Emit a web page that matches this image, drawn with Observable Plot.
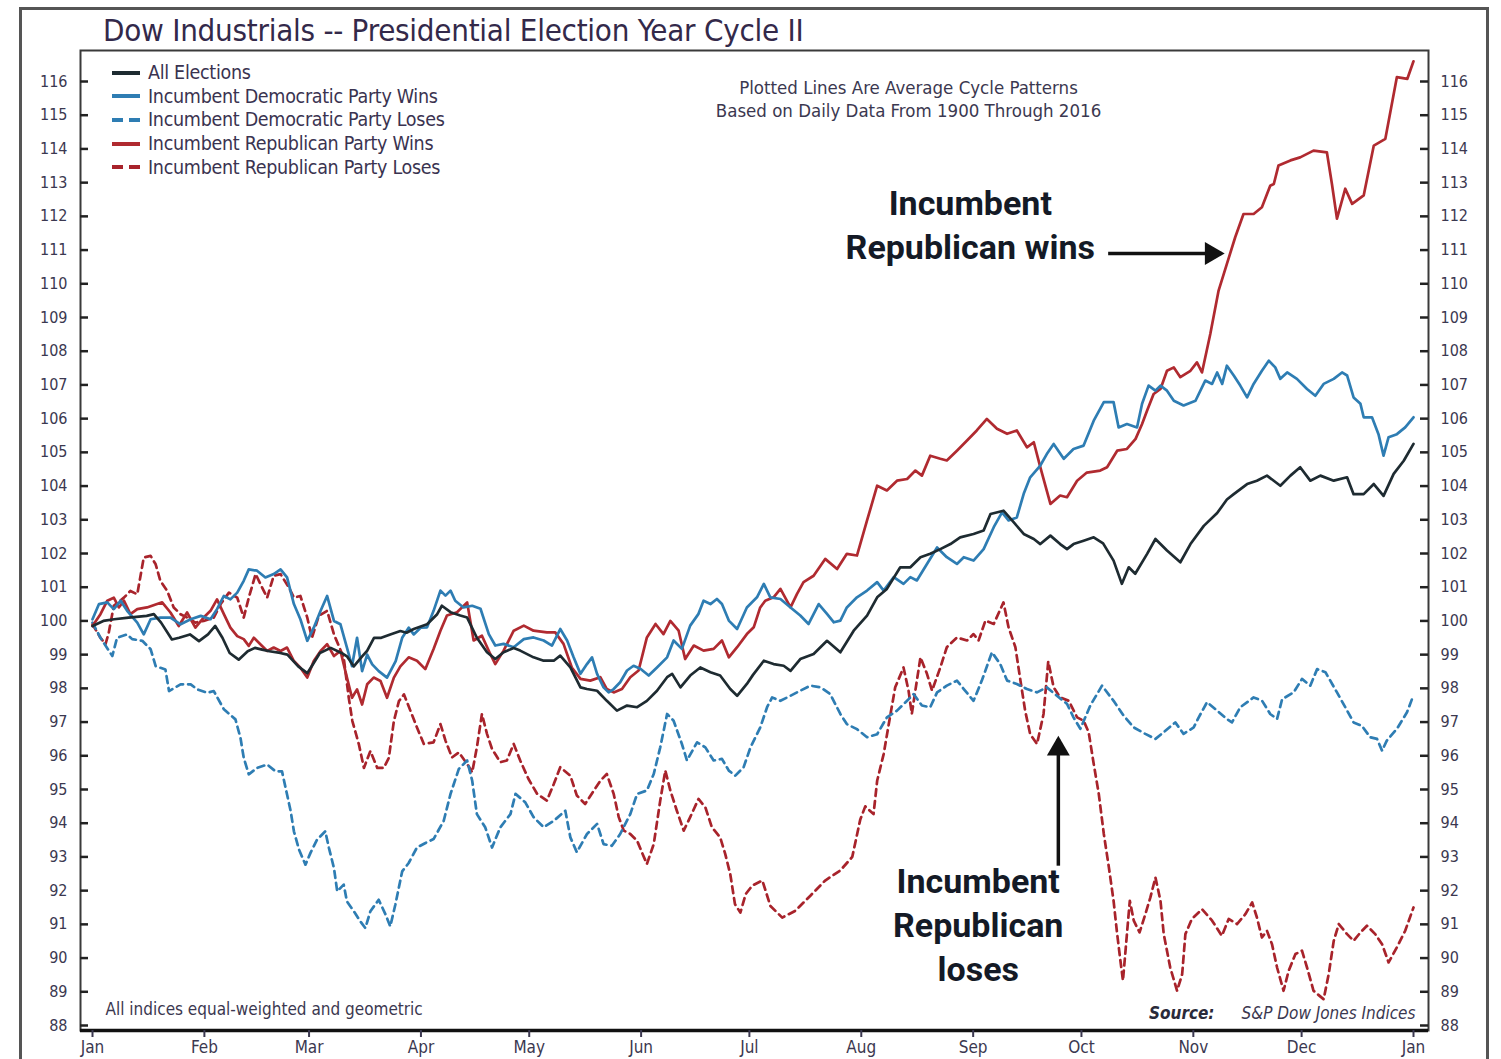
<!DOCTYPE html>
<html>
<head>
<meta charset="utf-8">
<script src="https://cdn.jsdelivr.net/npm/d3@7"></script>
<script src="https://cdn.jsdelivr.net/npm/@observablehq/plot@0.6"></script>
<style>
  html, body { margin: 0; padding: 0; background: #fff; }
  #wrap { position: relative; width: 1501px; height: 1059px; overflow: hidden; }
  #border { position: absolute; left: 19px; top: 7px; width: 1470px; height: 1080px; border: 3px solid #555; box-sizing: border-box; pointer-events: none; }
  #title { position: absolute; left: 103px; top: 12px; font-family: "Liberation Sans Narrow", "DejaVu Sans Condensed", Roboto, sans-serif; font-size: 31px; color: #33294a; white-space: nowrap; letter-spacing: -0.25px; }
  #legend { position: absolute; left: 112px; top: 61px; font-family: "Liberation Sans Narrow", "DejaVu Sans Condensed", Roboto, sans-serif; font-size: 19.5px; color: #3a3350; letter-spacing: -0.3px; }
  .row { height: 23.6px; display: flex; align-items: center; white-space: nowrap; }
  .sw { width: 28px; height: 4px; margin-right: 8px; flex: none; }
  #chart { position: absolute; left: 0; top: 0; }
</style>
</head>
<body>
<div id="wrap">
  <div id="chart"></div>
  <div id="title"></div>
  <div id="legend"></div>
  <div id="border"></div>
</div>
<script>
// ---------- DATA (day of year, index level; Jan 1 = 100) ----------
const monthDays = [0, 31, 60, 91, 121, 152, 182, 213, 244, 274, 305, 335, 366];
const monthLabels = ["Jan","Feb","Mar","Apr","May","Jun","Jul","Aug","Sep","Oct","Nov","Dec","Jan"];
const yTicks = [88,89,90,91,92,93,94,95,96,97,98,99,100,101,102,103,104,105,106,107,108,109,110,111,112,113,114,115,116];

const seriesNames = ["All Elections","Incumbent Democratic Party Wins","Incumbent Democratic Party Loses","Incumbent Republican Party Wins","Incumbent Republican Party Loses"];
const seriesColors = ["#1e2b31","#2e7db3","#2e7db3","#b02a30","#a8232b"];
const seriesDashed = [false,false,true,false,true];

const allElections = [[0,99.85],[3,100.0],[6,100.05],[10,100.1],[15,100.15],[17,100.2],[19,99.95],[22,99.45],[24,99.5],[27,99.6],[29.5,99.4],[32,99.6],[34,99.85],[36,99.5],[38,99.05],[40.5,98.85],[43,99.1],[45,99.2],[47,99.15],[49,99.1],[52,99.05],[54,99.0],[57,98.65],[59.5,98.45],[61,98.7],[63,99.05],[66,99.2],[69,99.05],[70.5,98.95],[72.4,98.65],[74.7,98.95],[76,99.1],[78,99.5],[80,99.5],[82.5,99.6],[85.3,99.7],[87,99.65],[89,99.76],[92.7,99.9],[95.5,100.2],[96.8,100.45],[99.2,100.26],[101.9,100.16],[103.8,100.1],[106.5,99.5],[109.3,99.07],[111.6,98.87],[113.9,99.07],[116.7,99.2],[118.5,99.12],[122.2,98.92],[125,98.82],[127.8,98.82],[129.6,98.97],[132.4,98.62],[135.2,98.03],[137,97.98],[139.8,97.93],[142.5,97.63],[145.3,97.34],[148.1,97.49],[150.9,97.44],[153.6,97.63],[156.4,97.93],[159.2,98.33],[160.6,98.43],[162.9,98.03],[165.6,98.38],[168.4,98.62],[171.2,98.48],[173.9,98.38],[176.7,97.98],[178.6,97.78],[181.3,98.13],[183,98.4],[186,98.82],[188.7,98.72],[191.5,98.67],[193.4,98.52],[196.1,98.87],[199.8,99.02],[203.5,99.41],[207.2,99.07],[210.9,99.71],[214.6,100.16],[217.4,100.7],[220.1,100.95],[223.8,101.59],[226.6,101.59],[229.4,101.89],[232.1,101.99],[234.9,102.13],[237.7,102.28],[240.4,102.48],[244.1,102.58],[246.9,102.68],[248.8,103.17],[252.4,103.27],[255.2,102.93],[258,102.58],[260.8,102.43],[262.6,102.28],[265.4,102.53],[268.1,102.28],[270,102.13],[271.8,102.28],[274.6,102.38],[277.4,102.48],[280,102.3],[282.9,101.79],[285.2,101.1],[287.1,101.59],[288.9,101.4],[292.2,101.99],[294.5,102.43],[297.7,102.09],[301.4,101.74],[304.2,102.28],[307.9,102.82],[311.6,103.2],[314.3,103.6],[316.2,103.76],[319.9,104.06],[322.6,104.16],[325.4,104.31],[329.1,104.01],[331.9,104.31],[334.6,104.56],[337.4,104.16],[340.2,104.31],[343.9,104.16],[347.6,104.26],[349.4,103.76],[352.2,103.76],[355,104.06],[357.7,103.71],[360.5,104.36],[363.3,104.75],[366,105.25]];

const demWins = [[0,100.05],[1.8,100.5],[4.1,100.55],[5.9,100.35],[7.8,100.6],[9.6,100.3],[12.4,99.95],[14.2,99.6],[16.1,100.05],[18.8,100.1],[21.6,100.1],[24.4,99.9],[27.2,100.05],[30,100.15],[32.7,100.05],[34.5,100.35],[36.4,100.74],[38.2,100.64],[40.1,100.84],[41.9,101.19],[43.3,101.53],[45.6,101.49],[47.9,101.29],[50.2,101.39],[52.1,101.53],[53.9,101.29],[55.8,100.5],[57.6,100.05],[59.5,99.41],[61.3,99.8],[63.2,100.3],[65,100.74],[66.9,100.0],[68.7,99.9],[70.5,99.21],[71.9,98.66],[73.3,99.5],[74.7,98.51],[76.1,99.0],[77.5,98.71],[79.3,98.51],[81.6,98.32],[84,98.81],[85.8,99.5],[87.6,99.8],[89,99.6],[90.9,99.8],[92.7,99.81],[94.5,100.3],[96.4,100.9],[97.8,100.75],[99.2,100.9],[100.5,100.6],[102.8,100.4],[105.2,100.45],[107.5,100.36],[109.8,99.61],[111.6,99.27],[113.9,99.32],[116.7,99.22],[119.5,99.46],[122.2,99.51],[125,99.42],[127.3,99.27],[129.6,99.76],[131.5,99.42],[133.3,98.92],[135.2,98.43],[137,98.72],[138.4,98.92],[139.8,98.43],[141.6,98.03],[143,97.88],[144.4,97.98],[146.2,98.18],[148.1,98.53],[149.9,98.67],[151.8,98.58],[154.1,98.38],[156.4,98.62],[159.2,98.92],[161,99.42],[163.3,99.17],[165.6,99.86],[167.9,100.21],[169.3,100.6],[171.2,100.5],[173,100.65],[174.4,100.5],[176.3,100.01],[178.6,99.76],[181.3,100.4],[184.1,100.7],[186,101.1],[187.8,100.7],[190.6,100.65],[193.4,100.4],[196.1,100.16],[198.4,99.91],[201.2,100.5],[203.5,100.21],[205.4,99.96],[207.2,100.01],[209,100.4],[211.8,100.7],[214.6,100.9],[217.4,101.15],[219.2,100.9],[222,101.3],[224.7,101.1],[226.6,101.3],[228.4,101.2],[231.2,101.69],[234,102.18],[236.7,101.89],[239.5,101.69],[241.4,101.89],[244.1,101.79],[246.9,102.13],[249.7,102.78],[252,103.22],[253.8,102.98],[256.1,103.07],[258,103.77],[259.8,104.26],[262.6,104.61],[264.4,104.95],[266.3,105.25],[269.1,104.81],[271.8,105.1],[274.6,105.2],[277.4,105.94],[280.2,106.49],[282.9,106.49],[284.3,105.74],[286.6,105.84],[289.4,105.74],[290.8,106.44],[292.6,106.98],[294.5,106.83],[295.9,106.98],[297.7,106.83],[299.6,106.53],[302.3,106.39],[305.6,106.53],[308.3,107.13],[310.2,107.03],[311.6,107.37],[313,107.03],[314.3,107.57],[316.2,107.28],[318,106.98],[319.9,106.63],[321.7,107.03],[324,107.42],[325.9,107.72],[327.7,107.52],[329.1,107.18],[331,107.37],[333.7,107.18],[336.5,106.88],[338.8,106.68],[341.1,107.03],[343.9,107.18],[346.2,107.37],[347.6,107.28],[349.4,106.63],[351.3,106.44],[352.2,106.04],[354.5,106.04],[356.3,105.54],[357.7,104.9],[359.1,105.45],[361.4,105.54],[363.7,105.74],[366,106.04]];

const demLoses = [[0,99.95],[2.2,99.5],[5.5,98.96],[6.8,99.5],[9.6,99.6],[11,99.46],[13.8,99.41],[16.1,99.16],[17.5,98.66],[20.2,98.56],[21.2,97.92],[24.4,98.12],[27.2,98.12],[29,97.97],[31.8,97.87],[33.6,97.92],[36.4,97.38],[39.6,97.08],[41,96.53],[41.9,95.94],[43.3,95.45],[45.6,95.64],[48.4,95.74],[50.7,95.54],[52.5,95.54],[53.5,95.05],[54.9,94.36],[55.8,93.76],[57.2,93.22],[59,92.77],[60.4,93.12],[62.2,93.51],[64.5,93.76],[65.5,93.27],[66.9,92.67],[67.8,91.98],[69.6,92.18],[70.5,91.68],[72.4,91.39],[74.2,91.09],[75.6,90.89],[77,91.39],[79.3,91.73],[81.2,91.29],[82.5,90.94],[83.9,91.58],[85.8,92.57],[87.6,92.82],[89.9,93.28],[92,93.4],[94.5,93.53],[97.3,94.07],[99.2,94.87],[101.5,95.61],[103.8,95.86],[105.2,95.26],[106.5,94.27],[108.8,93.88],[110.7,93.28],[113,93.88],[115.8,94.27],[117.2,94.87],[119.9,94.62],[122.2,94.18],[125,93.88],[127.8,94.07],[131,94.37],[132.4,93.58],[134.2,93.14],[137,93.68],[139.8,93.98],[141.6,93.38],[143.9,93.33],[146.2,93.68],[149,94.27],[150.9,94.87],[153.6,94.97],[155.5,95.46],[157.3,96.25],[159.2,97.24],[161,97.04],[163.3,96.35],[164.7,95.86],[167.5,96.4],[169.8,96.25],[172.1,95.86],[174.4,95.91],[176.3,95.56],[178.1,95.41],[180.4,95.66],[182.3,96.25],[185,96.84],[186.9,97.44],[188.3,97.73],[190.6,97.63],[193.4,97.78],[196.1,97.93],[198.9,98.08],[201.7,98.03],[204.4,97.83],[207.2,97.24],[209,96.94],[211.8,96.79],[214.6,96.55],[217.4,96.64],[220.1,97.14],[222.9,97.34],[225.2,97.58],[227.5,97.83],[229.8,97.49],[232.1,97.44],[234,97.88],[236.7,98.08],[239.5,98.23],[241.4,97.98],[244.1,97.63],[246.4,98.23],[249.2,99.07],[251.5,98.72],[253.4,98.23],[256.1,98.13],[258.9,97.98],[261.7,97.88],[264.4,98.03],[267.2,97.78],[270,97.54],[271.8,97.14],[273.7,96.8],[276.5,97.5],[279.7,98.08],[282.9,97.63],[285.7,97.19],[288.5,96.84],[291.7,96.65],[294.5,96.5],[296.8,96.7],[300,96.99],[302.3,96.65],[305.1,96.84],[306.5,97.14],[308.8,97.59],[311.6,97.34],[314.3,97.09],[315.7,96.99],[318,97.44],[321.7,97.73],[324,97.64],[326.3,97.24],[328.2,97.09],[329.6,97.68],[332.8,97.88],[335.1,98.28],[337.4,98.08],[339.3,98.57],[341.6,98.48],[344.8,97.88],[347.1,97.44],[349.4,96.99],[351.7,96.89],[354,96.55],[355.9,96.5],[357.3,96.15],[358.6,96.45],[361.4,96.8],[364.2,97.29],[366,97.8]];

const repWins = [[0,99.85],[2.2,100.2],[4.1,100.6],[5.9,100.69],[7.3,100.4],[8.7,100.6],[10.5,100.2],[12.4,100.35],[15.1,100.4],[17.9,100.5],[19.3,100.55],[21.6,100.25],[23.9,99.85],[26.2,100.25],[28.5,99.8],[30.8,100.1],[32.7,100.3],[34.5,100.64],[36.4,100.2],[38.2,99.8],[40.1,99.55],[41.9,99.46],[43.3,99.26],[44.7,99.5],[46.5,99.31],[48.4,99.11],[50.2,99.21],[52.1,99.11],[53.9,99.21],[55.8,98.81],[57.6,98.61],[59.5,98.32],[61.3,98.81],[63.2,99.11],[65,99.31],[66.9,98.96],[68.7,99.11],[70.5,98.32],[71.9,97.72],[73.3,97.97],[74.7,97.52],[76.1,98.12],[77.9,98.32],[79.8,98.22],[81.6,97.72],[83.5,98.32],[85.3,98.65],[87.6,98.92],[89.9,98.82],[92.2,98.57],[94.5,99.17],[96.4,99.71],[98.2,100.16],[101,100.26],[103.8,100.55],[105.6,99.42],[107.9,99.56],[110.2,99.02],[111.6,98.72],[113.9,99.12],[116.7,99.71],[119.5,99.86],[122.2,99.71],[125.9,99.66],[128.2,99.66],[130.5,99.32],[132.8,98.62],[135.2,98.28],[137.9,98.23],[140.7,98.33],[142.5,97.98],[144.4,97.88],[146.7,97.98],[149,98.33],[151.3,98.53],[153.6,99.51],[156,99.91],[158.2,99.61],[160.1,100.0],[162.4,99.71],[164.2,98.87],[166.6,99.27],[169.3,99.12],[172.1,99.17],[174.4,99.42],[176.3,98.92],[178.6,99.22],[181.3,99.61],[183.2,99.81],[185,100.4],[186.4,100.6],[188.7,100.7],[190.6,100.95],[193.4,100.4],[195.2,100.8],[197,101.15],[199.8,101.34],[203,101.84],[206.3,101.54],[209,101.99],[211.8,101.94],[214.6,102.98],[217.4,104.01],[220.1,103.87],[222.9,104.16],[225.7,104.21],[228,104.46],[229.8,104.31],[232.1,104.9],[234.9,104.81],[236.7,104.76],[239.5,105.05],[242.3,105.35],[245,105.65],[247.8,105.99],[250.6,105.7],[253.4,105.55],[256.1,105.65],[258.9,105.15],[260.8,105.3],[262.6,104.56],[265.4,103.47],[268.1,103.72],[270,103.67],[272.8,104.16],[275.5,104.4],[279.2,104.46],[281.1,104.56],[283.9,105.05],[286.6,105.1],[289,105.4],[290.8,105.84],[292.2,106.24],[294,106.73],[295.9,106.88],[297.7,107.42],[299.6,107.52],[301.4,107.23],[304.2,107.42],[306,107.67],[307.4,107.37],[309.7,108.51],[312,109.8],[314.3,110.59],[316.6,111.38],[318.9,112.07],[321.7,112.07],[324,112.27],[326.3,112.91],[327.3,112.96],[328.6,113.51],[331.9,113.66],[334.6,113.75],[338.3,113.95],[342,113.9],[343.4,112.96],[344.8,111.93],[347.1,112.82],[349,112.37],[352.2,112.62],[355,114.1],[358.2,114.3],[361.4,116.13],[364.3,116.08],[366,116.6]];

const repLoses = [[0,99.9],[2.2,99.5],[3.6,99.31],[4.5,99.65],[5.9,100.45],[8.7,100.69],[10.5,100.89],[12.4,100.79],[14.2,101.88],[16.1,101.93],[17.5,101.68],[18.8,101.19],[20.7,100.89],[22.5,100.4],[24.4,100.2],[26.2,100.1],[28.5,99.95],[30.8,100.0],[33.6,100.1],[35.5,100.5],[37.8,100.84],[40.1,100.69],[41.9,100.1],[43.3,100.69],[45.2,101.39],[47,100.99],[48.4,100.69],[50.2,101.34],[52.1,101.39],[54.4,100.99],[55.8,100.69],[57.6,100.74],[59.5,100.1],[60.8,99.5],[62.7,100.15],[65,100.3],[66.9,99.6],[69.6,98.91],[71,97.72],[72,97.03],[73.8,96.34],[75.2,95.64],[77,96.14],[78.9,95.64],[80.7,95.64],[82.1,95.94],[83.5,97.03],[84.9,97.62],[86.3,97.82],[88.1,97.33],[89.9,96.84],[91.8,96.35],[94.5,96.4],[96.4,96.94],[97.8,96.45],[99.6,95.95],[101.5,96.1],[103.8,95.76],[105.2,95.51],[106.5,96.25],[107.9,97.24],[109.3,96.65],[110.7,96.2],[113,95.81],[114.8,95.86],[116.7,96.35],[118.5,95.86],[120.8,95.31],[123.2,94.87],[125.9,94.67],[127.8,95.16],[129.6,95.66],[132.4,95.41],[134.2,94.82],[136.5,94.57],[138.9,94.97],[140.7,95.26],[142.5,95.46],[144.4,94.87],[145.8,94.18],[147.2,93.78],[149,93.68],[150.9,93.48],[152.2,93.14],[153.6,92.79],[155.5,93.38],[157.3,94.67],[158.7,95.56],[160.1,94.97],[161.9,94.37],[163.8,93.78],[165.6,94.18],[167.9,94.72],[169.8,94.47],[171.6,93.88],[173.9,93.58],[175.3,93.09],[176.7,92.49],[178,91.6],[179.5,91.35],[181,91.9],[182.8,92.15],[185.6,92.3],[187.8,91.55],[191.1,91.2],[194.7,91.4],[198.9,91.85],[203,92.3],[207.2,92.6],[210.5,93.0],[212.7,94.1],[214.1,94.5],[216.4,94.27],[217.4,95.26],[219.2,96.05],[221.1,97.24],[222.4,98.03],[224.7,98.62],[226.1,97.93],[227,97.24],[228.4,98.23],[229.4,98.92],[231.2,98.43],[232.6,97.93],[234.9,98.62],[236.7,99.22],[239.5,99.51],[242.3,99.42],[244.1,99.61],[245.5,99.42],[247.4,100.01],[249.7,99.91],[252.4,100.55],[253.8,99.81],[255.7,99.22],[257.1,98.23],[258.4,97.34],[259.8,96.64],[261.7,96.35],[263.5,97.24],[264.8,98.8],[266.3,98.03],[268.1,97.73],[270.5,97.63],[272.8,97.14],[274.6,97.04],[276,96.7],[277.4,95.76],[278.8,94.87],[280.2,93.68],[281.6,92.69],[282.9,91.7],[283.9,90.71],[284.8,89.92],[285.5,89.33],[286.6,90.71],[287.4,91.7],[288.5,91.11],[290.1,90.76],[291.7,91.3],[293.1,91.8],[294.5,92.39],[295.9,91.7],[296.8,90.71],[298.6,89.72],[300.5,89.03],[301.9,89.52],[302.8,90.71],[304.6,91.16],[307.4,91.45],[310.2,91.11],[312.9,90.66],[314.8,91.16],[317.1,91.01],[319.4,91.3],[321.3,91.65],[322.6,91.21],[324,90.61],[325.4,90.81],[326.8,90.41],[328.2,89.72],[330,89.03],[331.4,89.62],[333.3,90.12],[335.1,90.22],[336.5,89.72],[338.3,89.03],[341.1,88.78],[342.5,89.52],[343.9,90.51],[345.3,91.01],[347.6,90.71],[349.4,90.51],[351.3,90.76],[353.1,90.96],[355.4,90.71],[357.3,90.41],[359.1,89.87],[361.4,90.32],[363.7,90.81],[366,91.5]];

// annotations (data coordinates)
const labelNotes = [
  {x: 243.2, y: 111.8, text: "Incumbent\nRepublican wins"},
  {x: 245.4, y: 91.05, text: "Incumbent\nRepublican\nloses"}
];
const arrowNotes = [
  {x1: 281.4, y1: 110.9, x2: 312.8, y2: 110.9, dir: "right"},
  {x1: 267.6, y1: 92.74, x2: 267.6, y2: 96.5, dir: "up"}
];
const topNote = "Plotted Lines Are Average Cycle Patterns\nBased on Daily Data From 1900 Through 2016";
const titleText = "Dow Industrials -- Presidential Election Year Cycle II";
const footLeft = "All indices equal-weighted and geometric";
const sourceLabel = "Source:";
const sourceText = "S&P Dow Jones Indices";

// ---------- RENDER ----------
const NARROW = '"Liberation Sans Narrow","DejaVu Sans Condensed",Roboto,sans-serif';
const seriesData = [allElections, demWins, demLoses, repWins, repLoses];
const W = 1501, H = 1059;
const mL = 80, mR = 73, mT = 50, mB = 29;
const frameW = W - mL - mR;

const lineMarks = seriesData.map((s, i) => Plot.line(s, {
  x: d => d[0], y: d => d[1],
  stroke: seriesColors[i], strokeWidth: 2.7,
  strokeDasharray: seriesDashed[i] ? "7,5" : null,
  strokeLinejoin: "round"
}));
const order = [4, 2, 3, 1, 0];

const chart = Plot.plot({
  width: W, height: H,
  marginLeft: mL, marginRight: mR, marginTop: mT, marginBottom: mB,
  style: {fontFamily: NARROW, fontSize: "16px", color: "#3b3850", background: "transparent", overflow: "visible"},
  x: {domain: [0, 366], insetLeft: 12, insetRight: 15},
  y: {domain: [88, 116], insetTop: 31, insetBottom: 5},
  marks: [
    Plot.frame({stroke: "#3a3a3a", strokeWidth: 2}),
    Plot.ruleY([88], {dy: 5, stroke: "#111", strokeWidth: 3.5}),
    Plot.tickY(yTicks, {y: d => d, insetRight: frameW - 8, stroke: "#222", strokeWidth: 2.5}),
    Plot.tickY(yTicks, {y: d => d, insetLeft: frameW - 8, stroke: "#222", strokeWidth: 2.5}),
    Plot.axisY(yTicks, {anchor: "left", tickSize: 0, tickPadding: 13, fontSize: 16, fontFamily: NARROW, fill: "#3b3850"}),
    Plot.axisY(yTicks, {anchor: "right", tickSize: 0, tickPadding: 12, fontSize: 16, fontFamily: NARROW, fill: "#3b3850"}),
    Plot.axisX(monthDays, {anchor: "bottom", tickSize: 7, tickPadding: 3, strokeWidth: 2, fontSize: 17, fontFamily: NARROW, fill: "#3b3850",
      tickFormat: d => monthLabels[monthDays.indexOf(d)]}),
    ...order.map(i => lineMarks[i]),
    Plot.text([topNote], {frameAnchor: "top", dx: 908 - (mL + frameW / 2), dy: 27, lineAnchor: "top", lineHeight: 1.25,
      fontSize: 18.5, fontFamily: NARROW, fill: "#3b3850", text: d => d}),
    Plot.text(labelNotes, {x: "x", y: "y", text: "text", fontSize: 34, fontWeight: "bold", fontFamily: "Roboto, Inter, sans-serif",
      fill: "#141a26", lineHeight: 1.3}),
    Plot.link(arrowNotes, {x1: "x1", y1: "y1", x2: "x2", y2: "y2", stroke: "#111", strokeWidth: 3.5}),
    Plot.dot(arrowNotes.filter(d => d.dir === "right"), {x: "x2", y: "y2", symbol: "triangle", r: 8.5, fill: "#111", rotate: 90, dx: -10}),
    Plot.dot(arrowNotes.filter(d => d.dir === "up"), {x: "x2", y: "y2", symbol: "triangle", r: 8.5, fill: "#111", dy: 10}),
    Plot.text([footLeft], {frameAnchor: "bottom-left", textAnchor: "start", dx: 25, dy: -16, fontSize: 17, fontFamily: NARROW, fill: "#3b3850", text: d => d}),
    Plot.text([sourceText], {frameAnchor: "bottom-right", textAnchor: "end", dx: -13, dy: -12, fontSize: 17, fontStyle: "italic", fontFamily: NARROW, fill: "#3b3850", text: d => d}),
    Plot.text([sourceLabel], {frameAnchor: "bottom-right", textAnchor: "end", dx: -214, dy: -12, fontSize: 17, fontStyle: "italic", fontWeight: "bold", fontFamily: NARROW, fill: "#2a2a3a", text: d => d})
  ]
});
document.getElementById("chart").appendChild(chart);

document.getElementById("title").textContent = titleText;

const legend = document.getElementById("legend");
seriesNames.forEach((name, i) => {
  const row = document.createElement("div");
  row.className = "row";
  const sw = document.createElement("div");
  sw.className = "sw";
  sw.style.background = seriesDashed[i]
    ? `repeating-linear-gradient(90deg, ${seriesColors[i]} 0 11px, transparent 11px 17px)`
    : seriesColors[i];
  const lab = document.createElement("span");
  lab.textContent = name;
  row.appendChild(sw); row.appendChild(lab);
  legend.appendChild(row);
});
</script>
</body>
</html>
